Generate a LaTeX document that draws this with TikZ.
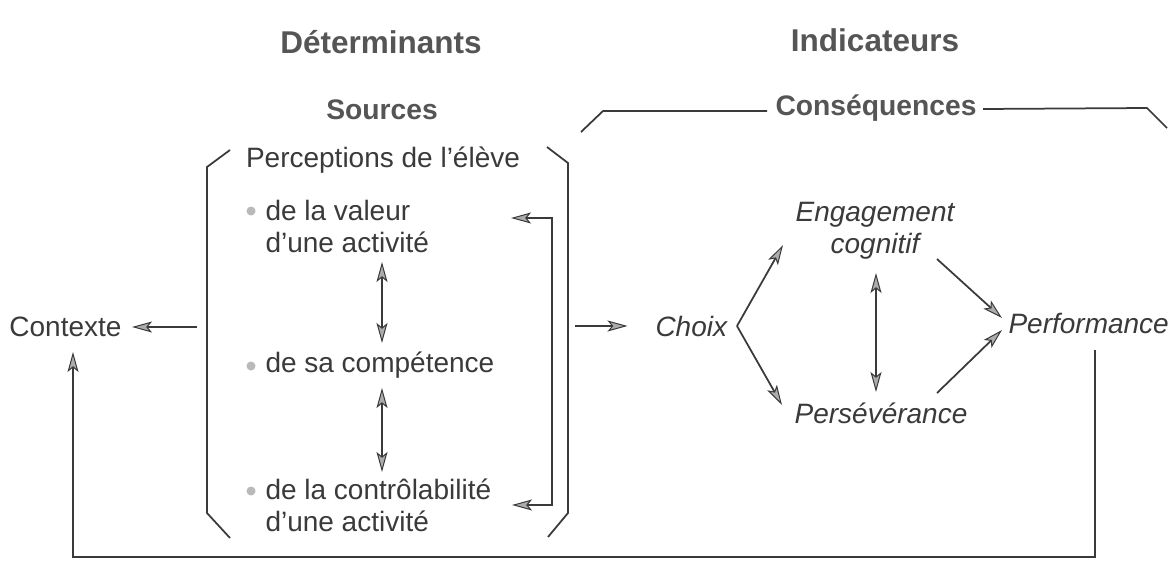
\documentclass[tikz,border=0pt]{standalone}
\usepackage{fontspec}
\setmainfont{Liberation Sans}
\usetikzlibrary{arrows.meta}
\definecolor{encre}{HTML}{3A3A3A}
\definecolor{titre}{HTML}{555555}

\begin{document}
\begin{tikzpicture}[x=0.4pt, y=-0.4pt,
    texte/.style={inner sep=0pt, text=encre, font=\fontsize{11.2}{12.8}\selectfont},
    grand/.style={inner sep=0pt, text=titre, font=\fontsize{12.6}{15}\selectfont\bfseries},
    moyen/.style={inner sep=0pt, text=titre, font=\fontsize{11.3}{14}\selectfont\bfseries},
    trait/.style={draw=encre, line width=0.7pt},
    pointe/.tip={Stealth[length=8pt, width=4.4pt, inset=1.8pt, fill=gray!65, line width=0.4pt]},
    fleche/.style={trait, -pointe},
    double/.style={trait, pointe-pointe},
    puce/.style={circle, fill=gray!55, inner sep=0pt, minimum size=3.6pt}]
    \useasboundingbox[fill=white] (0,0) rectangle (1174,573);

    % titres
    \node[grand] (determ) at (381,42) {Déterminants};
    \node[grand] (indic) at (875,40) {Indicateurs};
    \node[moyen] (sources) at (382,110) {Sources};
    \node[moyen] (conseq) at (876,108) {Conséquences};

    % crochets
    \draw[trait] (230,150) -- (207,167) -- (207,513) -- (230,538);
    \draw[trait] (547,147) -- (568,163) -- (568,513) -- (548,537);
    \draw[trait] (581,132) -- (603,111) -- (767,111);
    \draw[trait] (983,109) -- (1147,108) -- (1167,128);

    % perceptions
    \node[texte] (percep) at (383,160) {Perceptions de l’élève};
    \node[puce] (p1) at (251,211) {};
    \node[puce] (p2) at (251,366) {};
    \node[puce] (p3) at (251,491) {};
    \node[texte, anchor=west, align=left] (valeur) at (265,226) {de la valeur\\d’une activité};
    \node[texte, anchor=west] (compet) at (265,365) {de sa compétence};
    \node[texte, anchor=west, align=left] (control) at (265,505) {de la contrôlabilité\\d’une activité};

    \coordinate (v1) at (382,262);
    \coordinate (v2) at (382,343);
    \coordinate (v3) at (382,388);
    \coordinate (v4) at (382,472);
    \draw[double] (v1) -- (v2);
    \draw[double] (v3) -- (v4);

    \coordinate (r1) at (511,218);
    \coordinate (r2) at (512,505);
    \draw[double] (r1) -- (552,218) -- (552,505) -- (r2);

    % contexte et choix
    \node[texte, anchor=east] (contexte) at (122,327) {Contexte};
    \node[texte, anchor=west] (choix) at (655,326) {\itshape Choix};
    \coordinate (gauche) at (197,327);
    \coordinate (droite) at (575,326);
    \draw[fleche] (gauche) -- ([xshift=4]contexte.east);
    \draw[fleche] (droite) -- ([xshift=-11]choix.west);

    % consequences
    \node[texte, align=center] (engag) at (875,231) {\itshape Engagement\\\itshape cognitif};
    \node[texte] (persev) at (881,413) {\itshape Persévérance};
    \node[texte, anchor=west] (perf) at (1008,323) {\itshape Performance};

    \coordinate (apex) at (737,326);
    \coordinate (e1) at (783,245);
    \coordinate (e2) at (782,405);
    \draw[fleche] (apex) -- (e1);
    \draw[fleche] (apex) -- (e2);

    \coordinate (m1) at (876,273);
    \coordinate (m2) at (876,392);
    \draw[double] (m1) -- (m2);

    \coordinate (s1) at (937,259);
    \coordinate (s2) at (1002,318);
    \coordinate (s3) at (937,393);
    \coordinate (s4) at (1002,330);
    \draw[fleche] (s1) -- (s2);
    \draw[fleche] (s3) -- (s4);

    % retour
    \coordinate (bas) at (1095,350);
    \coordinate (haut) at (73,352);
    \draw[fleche] (bas) -- (1095,557) -- (73,557) -- (haut);
\end{tikzpicture}
\end{document}
